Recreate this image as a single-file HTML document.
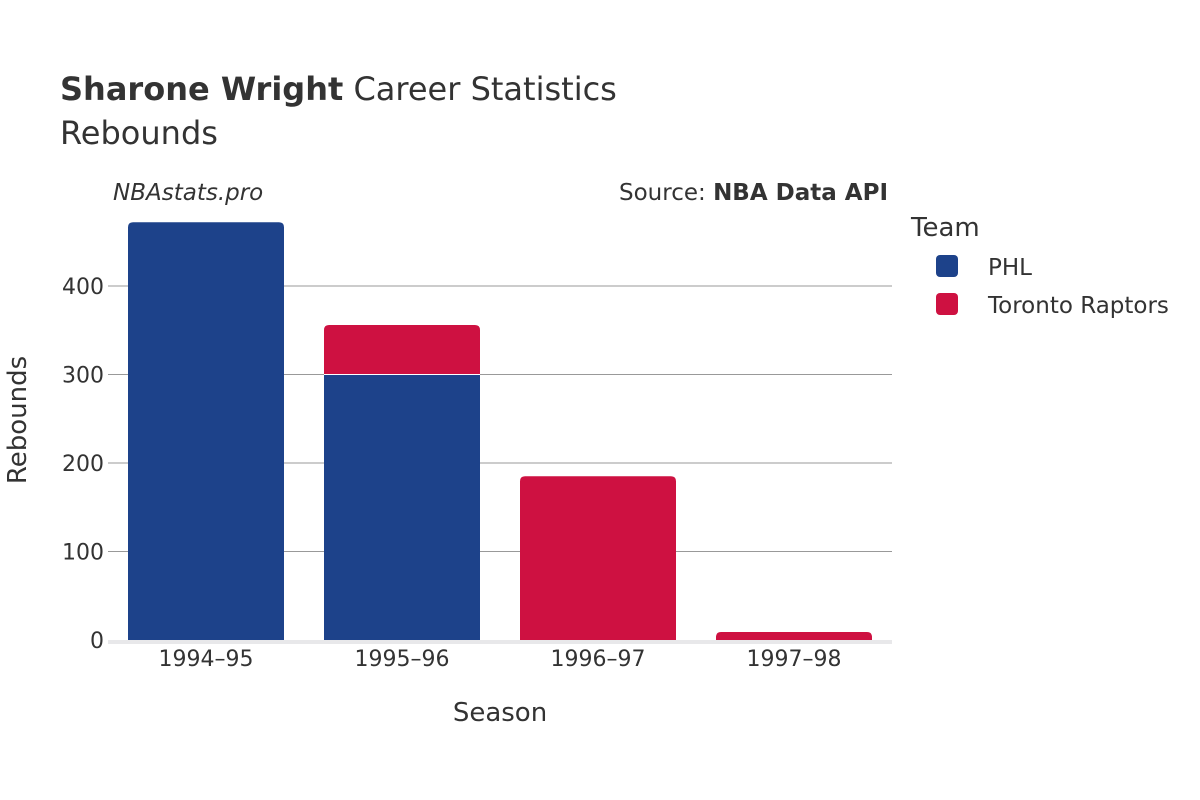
<!DOCTYPE html>
<html><head><meta charset="utf-8"><style>
body{margin:0;background:#fff;}
svg{display:block;font-family:"DejaVu Sans","Liberation Sans",sans-serif;}
</style></head><body>
<svg id="chart" width="1200" height="800">
<rect width="1200" height="800" fill="#fff"/>
<text x="60" y="100" font-size="32" fill="#333"><tspan font-weight="bold">Sharone Wright</tspan> Career Statistics</text>
<text x="60" y="144" font-size="32" fill="#333">Rebounds</text>
<text x="113" y="200" font-size="23" font-style="italic" fill="#333">NBAstats.pro</text>
<text x="888" y="200" font-size="23" text-anchor="end" fill="#333">Source: <tspan font-weight="bold">NBA Data API</tspan></text>
<g id="grid"></g>
<g id="bars"></g>
<g id="xt"></g>
<text x="500" y="721" font-size="26" text-anchor="middle" fill="#333">Season</text>
<text transform="translate(26,420) rotate(-90)" font-size="26" text-anchor="middle" fill="#333">Rebounds</text>
<text x="911" y="236" font-size="26" fill="#333">Team</text>
<g><rect x="936" y="255" width="22" height="22" rx="4" fill="#1d428a"/><text x="988" y="275" font-size="23" fill="#333">PHL</text></g>
<g><rect x="936" y="293" width="22" height="22" rx="4" fill="#ce1141"/><text x="988" y="313" font-size="23" fill="#333">Toronto Raptors</text></g>
</svg>
<script>
const seasons=["1994–95","1995–96","1996–97","1997–98"];
const phl=[472,300,0,0];
const raptors=[0,56,185,9];
const yTicks=[0,100,200,300,400];
const NS="http://www.w3.org/2000/svg";
const x0=108,x1=892,yBase=640,pxPer=0.885;
const band=(x1-x0)/seasons.length,bw=156;
const y=v=>yBase-v*pxPer;
function mk(tag,attrs,parent){const e=document.createElementNS(NS,tag);for(const k in attrs)e.setAttribute(k,attrs[k]);parent.appendChild(e);return e;}
const grid=document.getElementById('grid'),bars=document.getElementById('bars'),xt=document.getElementById('xt');
yTicks.forEach(t=>{
 if(t>0){const l=mk('line',{x1:x0,x2:x1,y1:y(t),y2:y(t),stroke:'#999','stroke-width':1},grid);
 
 }
 const tx=mk('text',{x:x0-4,y:y(t)+8,'font-size':22,'text-anchor':'end',fill:'#333'},grid);tx.textContent=t;
 
 
});
const base=mk('rect',{x:x0,y:yBase,width:x1-x0,height:4,fill:'#e8e8ea'},grid);


function bar(x,v0,v1,color,name,roundTop){
 const top=y(v1),bot=y(v0),h=bot-top,r=roundTop?5:0;
 const d=`M${x},${bot} L${x},${top+r} Q${x},${top} ${x+r},${top} L${x+bw-r},${top} Q${x+bw},${top} ${x+bw},${top+r} L${x+bw},${bot} Z`;
 const p=mk('path',{d:d,fill:color},bars);
 
 
}
seasons.forEach((s,i)=>{
 const x=x0+band*i+(band-bw)/2;
 if(phl[i]>0)bar(x,0,phl[i],'#1d428a','bar-phl-'+s,raptors[i]===0);
 if(raptors[i]>0){bar(x,phl[i],phl[i]+raptors[i],'#ce1141','bar-raptors-'+s,true);
  if(phl[i]>0){const sep=mk('line',{x1:x,x2:x+bw,y1:y(phl[i]),y2:y(phl[i]),stroke:'#fff','stroke-width':1},bars);
  
  }}
 const t=mk('text',{x:x0+band*(i+0.5),y:666,'font-size':22,'text-anchor':'middle',fill:'#333'},xt);t.textContent=s;
 
 
});
</script>
</body></html>
